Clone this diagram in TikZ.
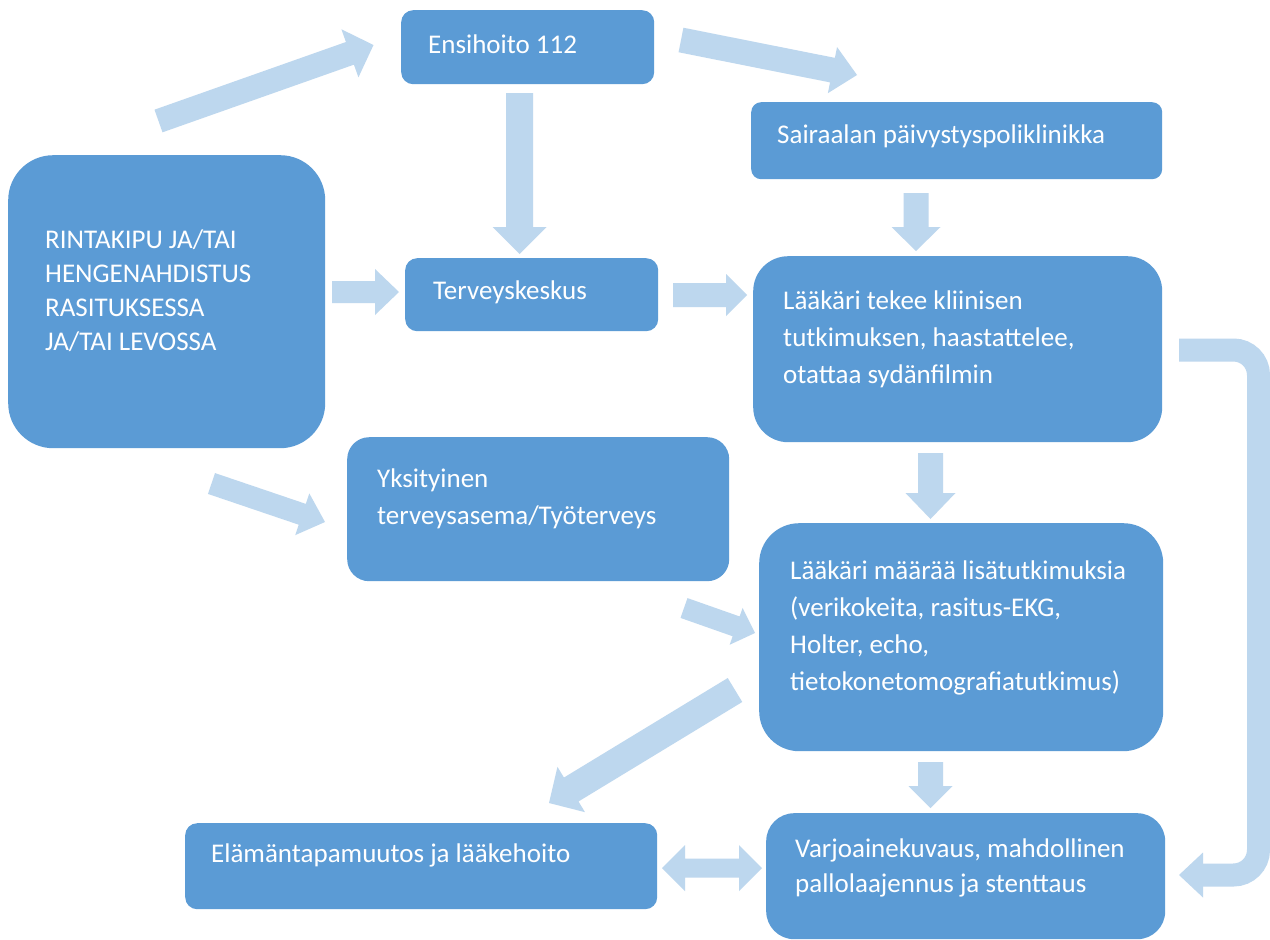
\documentclass[tikz,border=0pt]{standalone}
\usepackage{fontspec}
\setmainfont{Carlito}
\usetikzlibrary{calc}
\definecolor{boxblue}{HTML}{5B9BD5}
\definecolor{arrblue}{HTML}{BDD7EE}
\tikzset{
  box/.style={fill=boxblue, draw=none, rectangle, inner sep=0pt, anchor=north west},
  txt/.style={text=white, inner sep=0pt, align=left, anchor=base west, font=\fontsize{27}{37}\selectfont},
  arrowc/.style={fill=arrblue, draw=none},
}
\newcommand\blockarr[5]{%
  \coordinate (hbase) at ($(#2)!#5!(#1)$);
  \fill[arrowc] ($(#1)!#3!90:(#2)$) -- ($(hbase)!#3!90:(#2)$) -- ($(hbase)!#4!90:(#2)$) -- (#2)
    -- ($(hbase)!#4!-90:(#2)$) -- ($(hbase)!#3!-90:(#2)$) -- ($(#1)!#3!-90:(#2)$) -- cycle;}
\begin{document}
\begin{tikzpicture}[x=1pt,y=-1pt]
\fill[white] (0,0) rectangle (1270,940);
\useasboundingbox (0,0) rectangle (1270,940);
% boxes
\node[box, minimum width=317pt, minimum height=293pt, rounded corners=45pt] (rk) at (8,155) {};
\node[box, minimum width=253pt, minimum height=74pt, rounded corners=12pt] (ens) at (401,10) {};
\node[box, minimum width=411pt, minimum height=77pt, rounded corners=10pt] (sai) at (751,102) {};
\node[box, minimum width=253pt, minimum height=73pt, rounded corners=12pt] (ter) at (405,258) {};
\node[box, minimum width=409pt, minimum height=186pt, rounded corners=35pt] (lt) at (753,256) {};
\node[box, minimum width=382pt, minimum height=144pt, rounded corners=22pt] (yks) at (347,437) {};
\node[box, minimum width=404pt, minimum height=228pt, rounded corners=40pt] (lm) at (759,523) {};
\node[box, minimum width=472pt, minimum height=86pt, rounded corners=12pt] (ela) at (185,823) {};
\node[box, minimum width=399pt, minimum height=126pt, rounded corners=28pt] (var) at (766,813) {};
% texts (anchor = baseline of last line)
\node[txt, font=\fontsize{27}{34}\selectfont] (trk) at (45,350) {RINTAKIPU JA/TAI\\HENGENAHDISTUS\\RASITUKSESSA\\JA/TAI LEVOSSA};
\node[txt] (tens) at (428,53) {Ensihoito 112};
\node[txt] (tsai) at (777,143) {Sairaalan päivystyspoliklinikka};
\node[txt] (tter) at (433,299) {Terveyskeskus};
\node[txt] (tlt) at (783,383) {Lääkäri tekee kliinisen\\tutkimuksen, haastattelee,\\otattaa sydänfilmin};
\node[txt] (tyks) at (377,524) {Yksityinen\\terveysasema/Työterveys};
\node[txt] (tlm) at (790,690) {Lääkäri määrää lisätutkimuksia\\(verikokeita, rasitus-EKG,\\Holter, echo,\\tietokonetomografiatutkimus)};
\node[txt] (tela) at (211,862) {Elämäntapamuutos ja lääkehoito};
\node[txt, font=\fontsize{27}{35}\selectfont] (tvar) at (795,892) {Varjoainekuvaus, mahdollinen\\pallolaajennus ja stenttaus};
% arrow end points
\coordinate (a1s) at (158.5,121); \coordinate (a1e) at (373.5,45);
\coordinate (a2s) at (681,40);    \coordinate (a2e) at (857,75);
\coordinate (a3s) at (519.5,93);  \coordinate (a3e) at (519.5,254);
\coordinate (a4s) at (332,292);   \coordinate (a4e) at (399,292);
\coordinate (a5s) at (673,295);   \coordinate (a5e) at (747,295);
\coordinate (a6s) at (916,193);   \coordinate (a6e) at (916,251);
\coordinate (a7s) at (930.5,453); \coordinate (a7e) at (930.5,519);
\coordinate (a8s) at (930.5,762); \coordinate (a8e) at (930.5,808);
\coordinate (a9s) at (211.5,483.5); \coordinate (a9e) at (325,522);
\coordinate (a10s) at (684,608);  \coordinate (a10e) at (755,633);
\coordinate (a11s) at (735,690);  \coordinate (a11e) at (549,803);
\blockarr{a1s}{a1e}{12pt}{25.5pt}{25pt}
\blockarr{a2s}{a2e}{12.5pt}{23.5pt}{25pt}
\blockarr{a3s}{a3e}{13.5pt}{27pt}{27pt}
\blockarr{a4s}{a4e}{11pt}{23pt}{24pt}
\blockarr{a5s}{a5e}{12pt}{21pt}{21pt}
\blockarr{a6s}{a6e}{12.5pt}{24.5pt}{24pt}
\blockarr{a7s}{a7e}{12.5pt}{25pt}{26pt}
\blockarr{a8s}{a8e}{12.5pt}{22pt}{22pt}
\blockarr{a9s}{a9e}{11pt}{22pt}{24pt}
\blockarr{a10s}{a10e}{10.5pt}{19.5pt}{20pt}
\blockarr{a11s}{a11e}{14pt}{26.5pt}{26pt}
% double arrow
\coordinate (dl) at (662,868); \coordinate (dr) at (762,868);
\fill[arrowc] (dl) -- ++(23,-23) -- ++(0,13.5) -- ($(dr)+(-23,-9.5)$) -- ++(0,-13.5) -- (dr)
  -- ++(-23,23) -- ++(0,-13.5) -- ($(dl)+(23,9.5)$) -- ++(0,13.5) -- cycle;
% U-turn arrow
\coordinate (us) at (1179,350); \coordinate (ue) at (1179,875);
\draw[arrblue, line width=23pt, rounded corners=25pt] (us) -- (1258.5,350) -- (1258.5,875) -- (1202,875);
\fill[arrowc] (ue) -- ++(24,-22.5) -- ++(0,45) -- cycle;
\end{tikzpicture}
\end{document}
